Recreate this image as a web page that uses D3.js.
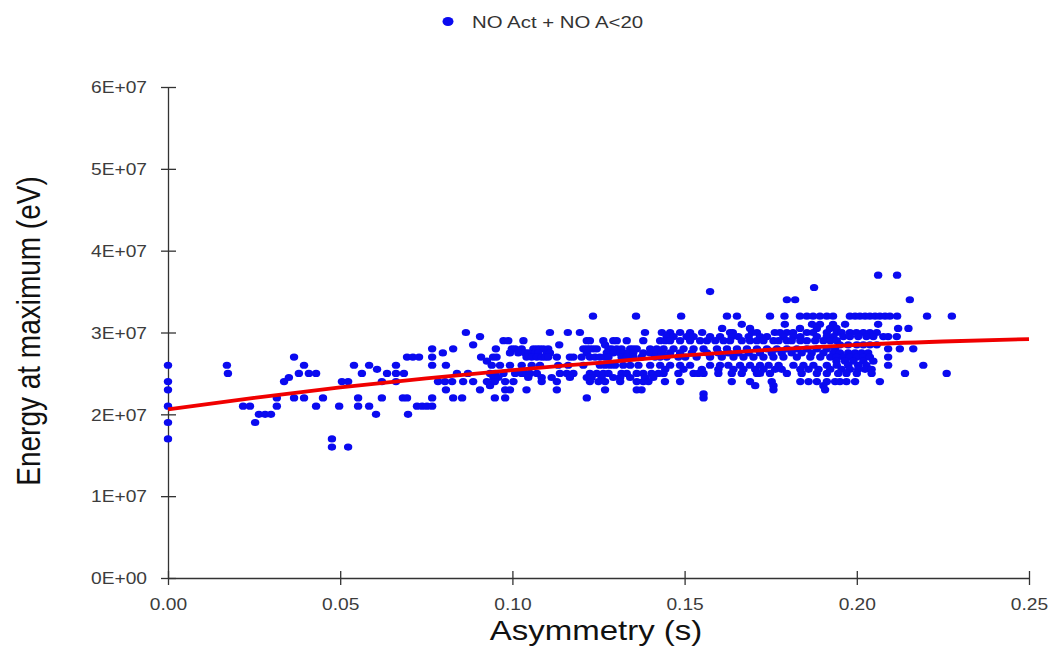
<!DOCTYPE html>
<html>
<head>
<meta charset="utf-8">
<script src="https://cdn.jsdelivr.net/npm/d3@7"></script>
<style>
  html, body { margin: 0; padding: 0; background: #ffffff; }
  svg { display: block; font-family: "Liberation Sans", Arial, sans-serif; }
</style>
</head>
<body>
<svg id="chart" width="1052" height="648"></svg>
<script>
// ---- Data ----
const seriesName = "NO Act + NO A<20";
const xTickValues = [0, 0.05, 0.10, 0.15, 0.20, 0.25];
const xTickLabels = ["0.00", "0.05", "0.10", "0.15", "0.20", "0.25"];
const yTickValues = [0, 1e7, 2e7, 3e7, 4e7, 5e7, 6e7];
const yTickLabels = ["0E+00", "1E+07", "2E+07", "3E+07", "4E+07", "5E+07", "6E+07"];

// energy levels of the points (eV), and the asymmetry values (s) found on each level
const energyLevels = [3.7e7, 3.55e7, 3.5e7, 3.4e7, 3.2e7, 3.1e7, 3.05e7, 3.0e7, 2.95e7, 2.9e7, 2.85e7, 2.8e7, 2.75e7, 2.7e7, 2.65e7, 2.6e7, 2.55e7, 2.5e7, 2.45e7, 2.4e7, 2.35e7, 2.3e7, 2.25e7, 2.2e7, 2.1e7, 2.0e7, 1.9e7, 1.7e7, 1.6e7];
const asymmetryByLevel = [
  [0.2062, 0.2117],
  [0.1876],
  [0.1574],
  [0.1797, 0.1821, 0.2154],
  [0.1234, 0.1359, 0.149, 0.1623, 0.1652, 0.1748, 0.179, 0.1835, 0.1855, 0.1873, 0.1893, 0.1913, 0.1931, 0.198, 0.1995, 0.2009, 0.2024, 0.2038, 0.2053, 0.2067, 0.2082, 0.2096, 0.2117, 0.2204, 0.2276],
  [0.1666, 0.1791, 0.187, 0.1893, 0.1931, 0.1966, 0.2062],
  [0.1609, 0.169, 0.1835, 0.1884, 0.1922, 0.1941, 0.212, 0.215],
  [0.0865, 0.1109, 0.1161, 0.1196, 0.1385, 0.1434, 0.1458, 0.1487, 0.1516, 0.1551, 0.1632, 0.164, 0.1696, 0.171, 0.1762, 0.1777, 0.1797, 0.1815, 0.1855, 0.1873, 0.1913, 0.1942, 0.1956, 0.198, 0.1999, 0.2019, 0.2038, 0.2058],
  [0.0906, 0.1448, 0.1468, 0.1506, 0.1526, 0.1574, 0.1603, 0.1637, 0.1656, 0.1686, 0.1719, 0.1739, 0.1787, 0.1816, 0.1836, 0.1884, 0.1913, 0.1932, 0.1961, 0.198, 0.2004, 0.2028, 0.2048, 0.2077, 0.2091, 0.2116],
  [0.0974, 0.0988, 0.1032, 0.1216, 0.1225, 0.1264, 0.1293, 0.1303, 0.1332, 0.138, 0.1429, 0.1444, 0.1458, 0.1487, 0.1516, 0.1545, 0.1565, 0.1589, 0.1613, 0.1632, 0.1666, 0.169, 0.171, 0.1729, 0.1758, 0.1773, 0.1797, 0.1811, 0.1836, 0.1855, 0.1879, 0.1903, 0.1923, 0.1942],
  [0.0886, 0.1136, 0.1269, 0.1951, 0.1975, 0.2, 0.2019, 0.2038, 0.2058],
  [0.0767, 0.0828, 0.0952, 0.0998, 0.1008, 0.1027, 0.1061, 0.1071, 0.108, 0.109, 0.1104, 0.1206, 0.1216, 0.1225, 0.1235, 0.1245, 0.1279, 0.1288, 0.1303, 0.1317, 0.1342, 0.1351, 0.1361, 0.14, 0.1419, 0.1439, 0.1468, 0.1497, 0.1526, 0.1555, 0.1594, 0.1623, 0.1652, 0.1681, 0.171, 0.1739, 0.1768, 0.1797, 0.1826, 0.1855, 0.1884, 0.1913, 0.1937, 0.2091, 0.2125, 0.2164],
  [0.0798, 0.0993, 0.1017, 0.1037, 0.1046, 0.1066, 0.1075, 0.11, 0.1109, 0.1216, 0.1274, 0.1293, 0.1313, 0.1322, 0.1337, 0.1351, 0.138, 0.14, 0.1419, 0.1434, 0.1458, 0.1487, 0.1521, 0.1565, 0.1598, 0.1627, 0.1656, 0.1686, 0.1719, 0.1753, 0.1782, 0.1811, 0.184, 0.1869, 0.1903, 0.1932, 0.1951, 0.1975, 0.1995, 0.2014, 0.2033],
  [0.0366, 0.0694, 0.0711, 0.0729, 0.0767, 0.0909, 0.0944, 0.0954, 0.1041, 0.1056, 0.1071, 0.1085, 0.1095, 0.1104, 0.1129, 0.1167, 0.1177, 0.1201, 0.1225, 0.124, 0.1254, 0.1269, 0.1279, 0.1317, 0.1332, 0.1351, 0.1375, 0.1414, 0.1429, 0.1448, 0.1482, 0.1502, 0.1535, 0.1574, 0.1608, 0.1642, 0.1671, 0.17, 0.1729, 0.1758, 0.1787, 0.1826, 0.1865, 0.1894, 0.1923, 0.1941, 0.1961, 0.198, 0.2, 0.2019, 0.2038, 0.2091],
  [0.0926, 0.1941, 0.1966, 0.199, 0.2019, 0.2048],
  [0, 0.0171, 0.0395, 0.054, 0.0584, 0.0662, 0.0767, 0.0807, 0.094, 0.0964, 0.0993, 0.1027, 0.1056, 0.108, 0.1133, 0.1162, 0.1206, 0.1254, 0.1269, 0.1284, 0.1298, 0.1322, 0.1342, 0.1366, 0.14, 0.1429, 0.1458, 0.1487, 0.1516, 0.1574, 0.1603, 0.1627, 0.1661, 0.169, 0.1719, 0.1744, 0.1773, 0.1816, 0.1845, 0.1874, 0.1913, 0.1942, 0.1975, 0.2004, 0.2028, 0.2091, 0.2193],
  [0.0607, 0.1444, 0.1497, 0.155, 0.1598, 0.1642, 0.1671, 0.1705, 0.1729, 0.1763, 0.1782, 0.1836, 0.186, 0.1889, 0.1923, 0.1956, 0.198, 0.2004, 0.2024, 0.2043],
  [0.0174, 0.038, 0.0409, 0.043, 0.0563, 0.0636, 0.0662, 0.0685, 0.0839, 0.0871, 0.0935, 0.095, 0.0974, 0.1008, 0.1027, 0.1037, 0.1051, 0.1071, 0.1138, 0.1158, 0.1177, 0.1225, 0.1245, 0.1264, 0.1279, 0.1317, 0.1332, 0.1361, 0.138, 0.1404, 0.1424, 0.1439, 0.1482, 0.1526, 0.154, 0.1555, 0.1598, 0.1637, 0.1666, 0.171, 0.1719, 0.1748, 0.1797, 0.184, 0.1884, 0.1913, 0.1946, 0.197, 0.2, 0.2043, 0.214, 0.2261],
  [0.0351, 0.0945, 0.0959, 0.1046, 0.1085, 0.1114, 0.1167, 0.1216, 0.123, 0.1259, 0.1293, 0.1313, 0.1342, 0.1385, 0.1409],
  [0, 0.0337, 0.0505, 0.0523, 0.0621, 0.0662, 0.0784, 0.0804, 0.0825, 0.0857, 0.0886, 0.0926, 0.0949, 0.0979, 0.1003, 0.1085, 0.1129, 0.1225, 0.125, 0.1269, 0.1313, 0.1361, 0.138, 0.1395, 0.1443, 0.1487, 0.1637, 0.169, 0.1753, 0.1836, 0.186, 0.1884, 0.1913, 0.1937, 0.1951, 0.197, 0.1995, 0.2067],
  [0.0935, 0.1705, 0.1758, 0.1903],
  [0, 0.0807, 0.0906, 0.0979, 0.0993, 0.1041, 0.1129, 0.1269, 0.1361, 0.1375, 0.1758, 0.1908],
  [0.1555],
  [0.0316, 0.0366, 0.0395, 0.045, 0.0552, 0.0621, 0.0682, 0.0694, 0.0767, 0.0828, 0.0854, 0.0949, 0.0979, 0.1216, 0.1555],
  [0, 0.0218, 0.0238, 0.0316, 0.043, 0.0497, 0.0552, 0.0584, 0.0723, 0.0738, 0.0752, 0.0767],
  [0.0264, 0.0282, 0.0299, 0.0604, 0.0697],
  [0, 0.0253],
  [0, 0.0476],
  [0.0476, 0.0523]
];

// fitted trend line
const trendAsymmetry = [0, 0.025, 0.05, 0.075, 0.10, 0.125, 0.15, 0.175, 0.20, 0.225, 0.25];
const trendEnergy = [2.06e7, 2.20e7, 2.33e7, 2.44e7, 2.54e7, 2.63e7, 2.72e7, 2.79e7, 2.85e7, 2.89e7, 2.92e7];

// ---- Layout ----
const W = 1052, H = 648;
const margin = { top: 87, right: 23, bottom: 70, left: 168 };
const stretch = 1.2;   // the reference's text is drawn wider than tall

const svg = d3.select("#chart");

const x = d3.scaleLinear().domain([0, 0.25]).range([margin.left, W - margin.right]);
const y = d3.scaleLinear().domain([0, 6e7]).range([H - margin.bottom, margin.top]);

const points = [];
energyLevels.forEach((e, i) => asymmetryByLevel[i].forEach(a => points.push({ a, e })));

const axisColor = "#333";
const labelColor = "#3c3c3c";
const fontFam = "'Liberation Sans', Arial, sans-serif";

// y axis
const yAxis = d3.axisLeft(y)
  .tickValues(yTickValues)
  .tickFormat((d, i) => yTickLabels[i])
  .tickSizeOuter(0)
  .tickSizeInner(7);

const gy = svg.append("g")
  .attr("transform", `translate(${margin.left},0)`)
  .call(yAxis);
gy.select(".domain").attr("stroke", axisColor).attr("stroke-width", 1.3);
gy.selectAll(".tick line").attr("stroke", axisColor).attr("x1", 8).attr("x2", -7).attr("stroke-width", 1.3);
gy.selectAll(".tick text")
  .attr("fill", labelColor)
  .attr("x", -21 / stretch)
  .attr("dy", "0.36em")
  .attr("transform", `scale(${stretch},1)`)
  .style("font-size", "16px")
  .style("font-family", fontFam);

// x axis
const xAxis = d3.axisBottom(x)
  .tickValues(xTickValues)
  .tickFormat((d, i) => xTickLabels[i])
  .tickSizeOuter(0)
  .tickSizeInner(7);

const gx = svg.append("g")
  .attr("transform", `translate(0,${H - margin.bottom})`)
  .call(xAxis);
gx.select(".domain").attr("stroke", axisColor).attr("stroke-width", 1.3);
gx.selectAll(".tick line").attr("stroke", axisColor).attr("y1", -7).attr("y2", 7).attr("stroke-width", 1.3);
gx.selectAll(".tick text")
  .attr("fill", labelColor)
  .attr("y", 32)
  .attr("dy", 0)
  .attr("transform", `scale(${stretch},1)`)
  .style("font-size", "16px")
  .style("font-family", fontFam);

// scatter points
svg.append("g")
  .selectAll("ellipse")
  .data(points)
  .join("ellipse")
  .attr("cx", d => x(d.a))
  .attr("cy", d => y(d.e))
  .attr("rx", 4.2)
  .attr("ry", 3.6)
  .attr("fill", "#0a0af0");

// trend line
const trend = trendAsymmetry.map((a, i) => ({ a, e: trendEnergy[i] }));
svg.append("path")
  .datum(trend)
  .attr("fill", "none")
  .attr("stroke", "#f00000")
  .attr("stroke-width", 3.8)
  .attr("d", d3.line().x(d => x(d.a)).y(d => y(d.e)).curve(d3.curveMonotoneX));

// axis titles
svg.append("text")
  .attr("transform", `translate(596,640) scale(${stretch},1)`)
  .attr("text-anchor", "middle")
  .attr("fill", "#111")
  .style("font-size", "27.5px")
  .text("Asymmetry (s)");

svg.append("text")
  .attr("transform", `translate(40,331) scale(${stretch},1) rotate(-90)`)
  .attr("text-anchor", "middle")
  .attr("fill", "#111")
  .style("font-size", "28px")
  .text("Energy at maximum (eV)");

// legend
const legend = svg.append("g").attr("transform", "translate(448,21.5)");
legend.append("ellipse").attr("rx", 5.5).attr("ry", 4.5).attr("fill", "#0a0af0");
legend.append("text")
  .attr("transform", `translate(24,6.5) scale(${stretch},1)`)
  .attr("fill", "#333")
  .style("font-size", "17px")
  .text(seriesName);
</script>
</body>
</html>
